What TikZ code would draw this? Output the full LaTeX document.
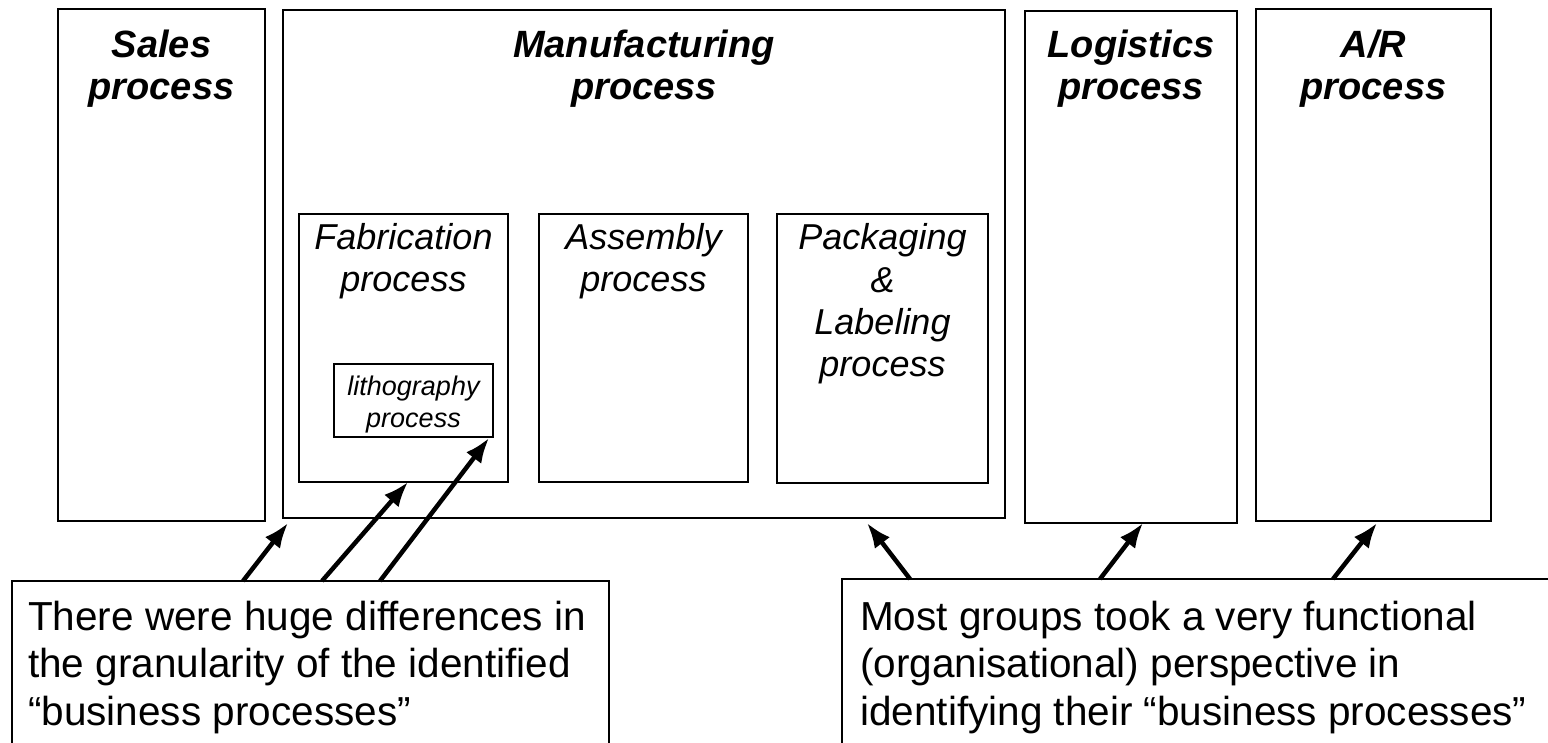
\documentclass[tikz,border=0pt]{standalone}
\usepackage{fontspec}
\setmainfont{Liberation Sans}
\usetikzlibrary{arrows.meta,calc}
\begin{document}
\begin{tikzpicture}[x=1pt,y=-1pt,
  boxst/.style={draw, line width=2pt, rectangle, anchor=north west, inner sep=0pt, outer sep=0pt},
  titlest/.style={font=\fontsize{38}{42}\selectfont\bfseries\itshape, align=center, anchor=base, inner sep=0pt},
  subst/.style={font=\fontsize{36}{42.5}\selectfont\itshape, align=center, anchor=base, inner sep=0pt},
  smallst/.style={font=\fontsize{27}{32}\selectfont\itshape, align=center, anchor=base, inner sep=0pt},
  calltext/.style={font=\fontsize{40.5}{47.5}\selectfont, align=left, anchor=base west, inner sep=0pt},
  arr/.style={line width=4.5pt, -{Latex[length=25pt,width=19pt]}}]
\clip (0,0) rectangle (1548,743);
\fill[white] (0,0) rectangle (1548,743);
% main boxes
\node[boxst, minimum width=207pt, minimum height=512pt] (sales) at (58,9) {};
\node[boxst, minimum width=722pt, minimum height=508pt] (manu) at (283,10) {};
\node[boxst, minimum width=212pt, minimum height=512pt] (logi) at (1025,11) {};
\node[boxst, minimum width=235pt, minimum height=512pt] (ar) at (1256,9) {};
% inner boxes
\node[boxst, minimum width=209pt, minimum height=268pt] (fab) at (299,214) {};
\node[boxst, minimum width=209pt, minimum height=268pt] (asm) at (539,214) {};
\node[boxst, minimum width=211pt, minimum height=269pt] (pack) at (777,214) {};
\node[boxst, minimum width=159pt, minimum height=73pt] (litho) at (334,364) {};
% callouts
\node[boxst, minimum width=597pt, minimum height=220pt] (lcall) at (12,581) {};
\node[boxst, minimum width=760pt, minimum height=220pt] (rcall) at (842,579) {};
% titles (anchored at the baseline of the last line)
\node[titlest] (salest) at (161.5,100) {Sales\\process};
\node[titlest] (manut) at (644,100) {Manufacturing\\process};
\node[titlest] (logit) at (1131,100) {Logistics\\process};
\node[titlest] (art) at (1373.5,100) {A/R\\process};
\node[subst] (fabt) at (403.5,292) {Fabrication\\process};
\node[subst] (asmt) at (643.5,292) {Assembly\\process};
\node[subst] (packt) at (882.5,377) {Packaging\\\&\\Labeling\\process};
\node[smallst] (lithot) at (413.5,427) {lithography\\process};
\node[calltext] (ltext) at (28,725) {There were huge differences in\\the granularity of the identified\\“business processes”};
\node[calltext] (rtext) at (860,725) {Most groups took a very functional\\(organisational) perspective in\\identifying their “business processes”};
% arrows
\draw[arr] ($(lcall.north west)+(231,0)$) -- ($(manu.south west)+(5,5)$);
\draw[arr] ($(lcall.north west)+(310,0)$) -- ($(fab.south west)+(109,0)$);
\draw[arr] ($(lcall.north west)+(368,0)$) -- ($(litho.south east)+(-4,1)$);
\draw[arr] ($(rcall.north west)+(68,0)$) -- ($(manu.south east)+(-138,5)$);
\draw[arr] ($(rcall.north west)+(258,0)$) -- ($(logi.south west)+(118,0)$);
\draw[arr] ($(rcall.north west)+(491,0)$) -- ($(ar.south west)+(121,2)$);
\end{tikzpicture}
\end{document}
